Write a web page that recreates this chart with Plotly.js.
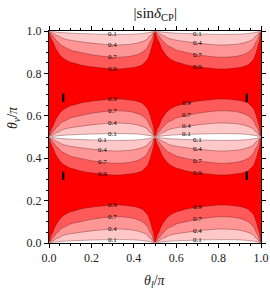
<!DOCTYPE html>
<html>
<head>
<meta charset="utf-8">
<script src="https://cdn.plot.ly/plotly-3.0.1.min.js"></script>
<style>html,body{margin:0;padding:0;background:#fff;}#chart{width:270px;height:293px;}</style>
</head>
<body>
<div id="chart"></div>
<script>
// theta_l / pi sample points of one periodic cell [0, 0.5]
const thetaL = [0, 0.015, 0.035, 0.06, 0.1, 0.15, 0.2, 0.25, 0.3, 0.35, 0.4, 0.44, 0.465, 0.485, 0.5];
// theta_nu / pi sample points of one quarter [0, 0.25] (cell mirrors about 0.25)
const thetaNu = [0, 0.01, 0.025, 0.05, 0.075, 0.1, 0.125, 0.15, 0.175, 0.2, 0.25];
// |sin delta_CP|, rows = thetaNu, cols = thetaL
const sinCP = [
  [0.5, 0, 0, 0, 0, 0, 0, 0, 0, 0, 0, 0, 0, 0, 0.5],
  [1, 0.445, 0.210, 0.133, 0.099, 0.083, 0.073, 0.067, 0.063, 0.063, 0.069, 0.085, 0.118, 0.259, 1],
  [1, 0.781, 0.475, 0.320, 0.243, 0.205, 0.182, 0.166, 0.156, 0.158, 0.172, 0.209, 0.287, 0.560, 1],
  [1, 0.932, 0.742, 0.569, 0.457, 0.395, 0.355, 0.327, 0.309, 0.312, 0.338, 0.401, 0.523, 0.811, 1],
  [1, 0.970, 0.867, 0.736, 0.627, 0.559, 0.512, 0.477, 0.454, 0.458, 0.490, 0.566, 0.694, 0.908, 1],
  [1, 0.985, 0.927, 0.840, 0.754, 0.693, 0.648, 0.612, 0.588, 0.592, 0.626, 0.700, 0.808, 0.952, 1],
  [1, 0.992, 0.960, 0.905, 0.845, 0.798, 0.760, 0.729, 0.707, 0.711, 0.741, 0.803, 0.884, 0.974, 1],
  [1, 0.996, 0.978, 0.947, 0.909, 0.877, 0.850, 0.826, 0.809, 0.812, 0.835, 0.880, 0.933, 0.986, 1],
  [1, 0.998, 0.989, 0.973, 0.952, 0.933, 0.917, 0.902, 0.891, 0.893, 0.908, 0.935, 0.966, 0.993, 1],
  [1, 0.999, 0.995, 0.989, 0.980, 0.971, 0.964, 0.957, 0.951, 0.952, 0.959, 0.972, 0.986, 0.997, 1],
  [1, 1, 1, 1, 1, 1, 1, 1, 1, 1, 1, 1, 1, 1, 1]
];
// contour levels shown
const levelsA = [0.1, 0.4, 0.7];
const levelB = 0.9;
const levelsAll = [0.1, 0.4, 0.7, 0.9];
// cell column (theta_l within cell) carrying the labels of each lens
// lenses in order: rising from 0, falling to 0.5, rising from 0.5, falling to 1
const labelColsLeft = [0.3, 0.25, 0.3, 0.3];
const labelColsRight = [0.2, 0.2, 0.15, 0.2];
// small black markers
const markX = [0.067, 0.067, 0.933, 0.933];
const markY = [0.685, 0.317, 0.685, 0.317];

// build the full table (periodic in both directions, mirrored within a cell)
const cellY = [], cellZ = [];
thetaNu.forEach((s, i) => { cellY.push(s); cellZ.push(sinCP[i]); });
for (let i = thetaNu.length - 2; i >= 0; i--) { cellY.push(+(0.5 - thetaNu[i]).toFixed(4)); cellZ.push(sinCP[i]); }
const yFull = [], zHalf = [];
cellY.forEach((y, i) => { yFull.push(y); zHalf.push(cellZ[i]); });
cellY.slice(1).forEach((y, i) => { yFull.push(+(0.5 + y).toFixed(4)); zHalf.push(cellZ[i + 1]); });
const xFull = thetaL.concat(thetaL.slice(1).map(t => +(0.5 + t).toFixed(4)));
const zFull = zHalf.map(r => r.concat(r.slice(1)));

// label positions: where each level crosses the chosen column
function crossing(col, level) {
  for (let i = 0; i < thetaNu.length - 1; i++) {
    const a = sinCP[i][col], b = sinCP[i + 1][col];
    if (a <= level && b >= level) return thetaNu[i] + (thetaNu[i + 1] - thetaNu[i]) * (level - a) / (b - a);
  }
  return null;
}
const labFont = {family: 'Liberation Serif', size: 7, color: '#000'};
const labelAnns = [];
[labelColsLeft, labelColsRight].forEach((cols, k) => {
  cols.forEach((tc, lens) => {
    const col = thetaL.indexOf(tc);
    const xPos = k * 0.5 + tc;
    levelsAll.forEach(L => {
      const s = crossing(col, L);
      const yPos = [s, 0.5 - s, 0.5 + s, 1 - s][lens];
      labelAnns.push({text: L.toFixed(1), x: xPos, y: yPos, xref: 'x', yref: 'y', showarrow: false,
        xanchor: 'center', yanchor: 'middle', font: labFont});
    });
  });
});

const white = '#ffffff', pale = 'rgb(255,200,200)', mid = 'rgb(255,150,150)', dark = 'rgb(255,90,90)', red = 'rgb(255,0,0)';
const cs = [[0, white], [1/9, pale], [2/9, pale], [3/9, pale], [4/9, mid], [5/9, mid], [6/9, mid], [7/9, dark], [8/9, dark], [1, red]];
const smooth = 1;
const lineCol = 'rgba(90,20,20,0.6)';

const traces = [
  {
    type: 'contour', x: xFull, y: yFull, z: zFull,
    autocontour: false,
    contours: {start: 0.1, end: 0.9, size: 0.1, coloring: 'fill', showlines: false},
    colorscale: cs, showscale: false, line: {width: 0, smoothing: smooth}, hoverinfo: 'skip'
  },
  {
    type: 'contour', x: xFull, y: yFull, z: zFull,
    autocontour: false,
    contours: {start: levelsA[0], end: levelsA[levelsA.length - 1], size: levelsA[1] - levelsA[0], coloring: 'none'},
    showscale: false, line: {color: lineCol, width: 0.6, smoothing: smooth}, hoverinfo: 'skip'
  },
  {
    type: 'contour', x: xFull, y: yFull, z: zFull,
    autocontour: false,
    contours: {start: levelB, end: levelB, size: 0.1, coloring: 'none'},
    showscale: false, line: {color: lineCol, width: 0.6, smoothing: smooth}, hoverinfo: 'skip'
  },
  {
    type: 'scatter', mode: 'markers', x: markX, y: markY,
    marker: {symbol: 'line-ns', size: 6, color: '#000', line: {width: 2.2, color: '#000'}},
    hoverinfo: 'skip', showlegend: false
  }
];

const axisCommon = {
  range: [0, 1], dtick: 0.2, tick0: 0, tickformat: '.1f',
  ticks: 'outside', ticklen: 4, tickwidth: 1, tickcolor: '#000',
  minor: {dtick: 0.05, ticklen: 2, tickwidth: 1, tickcolor: '#000', ticks: 'outside'},
  showline: true, linecolor: '#000', linewidth: 1, mirror: 'allticks',
  showgrid: false, zeroline: false,
  tickfont: {family: 'Liberation Serif', size: 12, color: '#222'}
};

const layout = {
  width: 270, height: 293,
  margin: {l: 49, r: 9, t: 31, b: 50},
  paper_bgcolor: '#fff', plot_bgcolor: '#fff',
  showlegend: false,
  title: {text: '|sin<i>δ</i><sub>CP</sub>|', font: {family: 'Liberation Serif', size: 15, color: '#111'}, x: 0.575, xanchor: 'center', y: 0.958, yanchor: 'middle', xref: 'container', yref: 'container'},
  xaxis: Object.assign({}, axisCommon),
  yaxis: Object.assign({}, axisCommon),
  annotations: labelAnns.concat([
    {text: '<i>θ</i><sub><i>l</i></sub>/<i>π</i>', xref: 'paper', yref: 'paper', x: 0.5, y: -0.18, xanchor: 'center', yanchor: 'middle', showarrow: false, font: {family: 'Liberation Serif', size: 14, color: '#222'}},
    {text: '<i>θ</i><sub><i>ν</i></sub>/<i>π</i>', xref: 'paper', yref: 'paper', x: -0.17, y: 0.594, xanchor: 'center', yanchor: 'middle', textangle: -90, showarrow: false, font: {family: 'Liberation Serif', size: 14, color: '#222'}}
  ])
};

Plotly.newPlot('chart', traces, layout, {staticPlot: true, displayModeBar: false});
</script>
</body>
</html>
